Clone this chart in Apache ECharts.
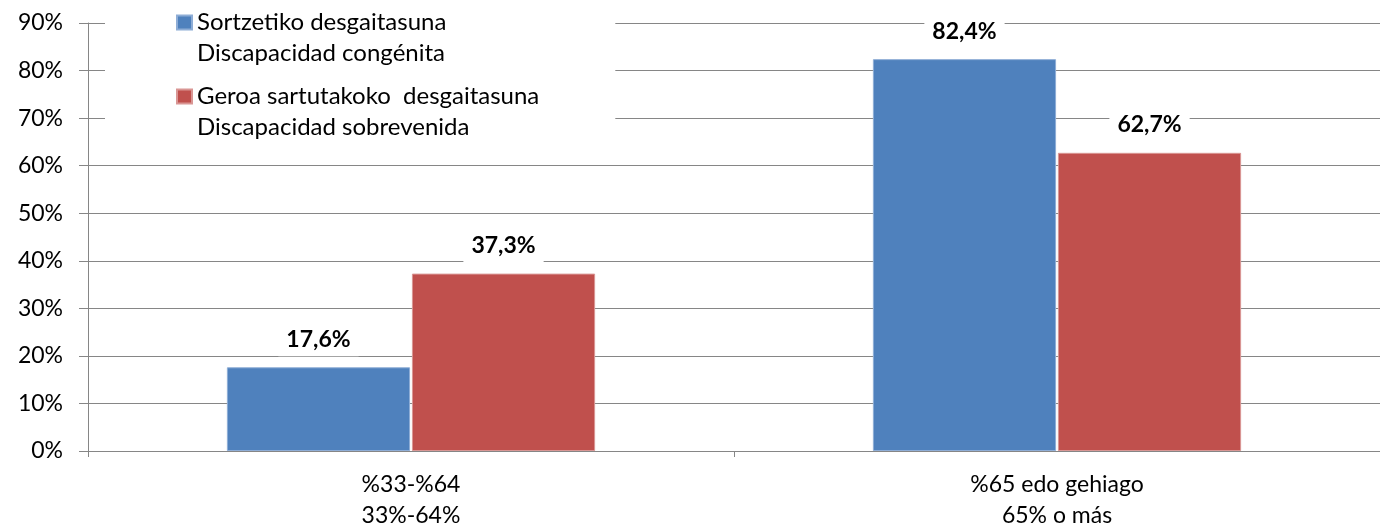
<!DOCTYPE html>
<html>
<head>
<meta charset="utf-8">
<script src="https://cdn.jsdelivr.net/npm/echarts@6/dist/echarts.min.js"></script>
<style>
  html, body { margin: 0; padding: 0; background: #fff; }
  #chart { width: 1380px; height: 531px; }
</style>
</head>
<body>
<div id="chart"></div>
<script>
const categories = ['%33-%64\n33%-64%', '%65 edo gehiago\n65% o más']
const seriesNames = [
  'Sortzetiko desgaitasuna\nDiscapacidad congénita',
  'Geroa sartutakoko  desgaitasuna\nDiscapacidad sobrevenida'
]
const congenita = [17.6, 82.4]
const sobrevenida = [37.3, 62.7]
const colors = ['#4F81BD', '#C0504D']
const borderColors = ['#8EADD6', '#D99694']

const font = 'Lato, "Open Sans", sans-serif'
const axisGray = '#868686'

const chart = echarts.init(document.getElementById('chart'))

const labelOpt = {
  show: true,
  position: 'top',
  distance: 11,
  color: '#000',
  fontFamily: font,
  fontWeight: 'bold',
  fontSize: 23,
  lineHeight: 26,
  backgroundColor: '#fff',
  padding: [4, 8],
  formatter: (p) => String(p.value).replace('.', ',') + '%'
}

const option = {
  animation: false,
  backgroundColor: '#fff',
  textStyle: { fontFamily: font },
  grid: { left: 88, right: -6, top: 23, bottom: 76 },
  legend: {
    left: 105,
    top: -24,
    orient: 'vertical',
    backgroundColor: '#fff',
    padding: [0, 76, 4, 71],
    itemWidth: 15,
    itemHeight: 14,
    itemGap: -19,
    icon: 'rect',
    // leading blank line keeps the marker level with the first line
    formatter: (name) => '\n' + name,
    textStyle: {
      fontFamily: font,
      fontSize: 24,
      color: '#000',
      lineHeight: 31
    },
    data: seriesNames
  },
  xAxis: {
    type: 'category',
    data: categories,
    axisLine: { lineStyle: { color: axisGray, width: 1 } },
    axisTick: { show: true, length: 6, lineStyle: { color: axisGray } },
    axisLabel: { margin: 18, fontSize: 23, lineHeight: 31, color: '#000', fontFamily: font }
  },
  yAxis: {
    type: 'value',
    min: 0,
    max: 90,
    interval: 10,
    axisLine: { show: true, lineStyle: { color: axisGray, width: 1 } },
    axisTick: { show: true, length: 9, lineStyle: { color: axisGray } },
    axisLabel: { margin: 25, fontSize: 23, color: '#000', fontFamily: font, formatter: '{value}%' },
    splitLine: { lineStyle: { color: axisGray, width: 1 } }
  },
  series: [
    {
      name: seriesNames[0],
      type: 'bar',
      data: congenita,
      barGap: '1%',
      barCategoryGap: '43%',
      itemStyle: { color: colors[0], borderColor: borderColors[0], borderWidth: 1 },
      label: labelOpt
    },
    {
      name: seriesNames[1],
      type: 'bar',
      data: sobrevenida,
      barGap: '1%',
      barCategoryGap: '43%',
      itemStyle: { color: colors[1], borderColor: borderColors[1], borderWidth: 1 },
      label: labelOpt
    }
  ]
}

chart.setOption(option)
</script>
</body>
</html>
